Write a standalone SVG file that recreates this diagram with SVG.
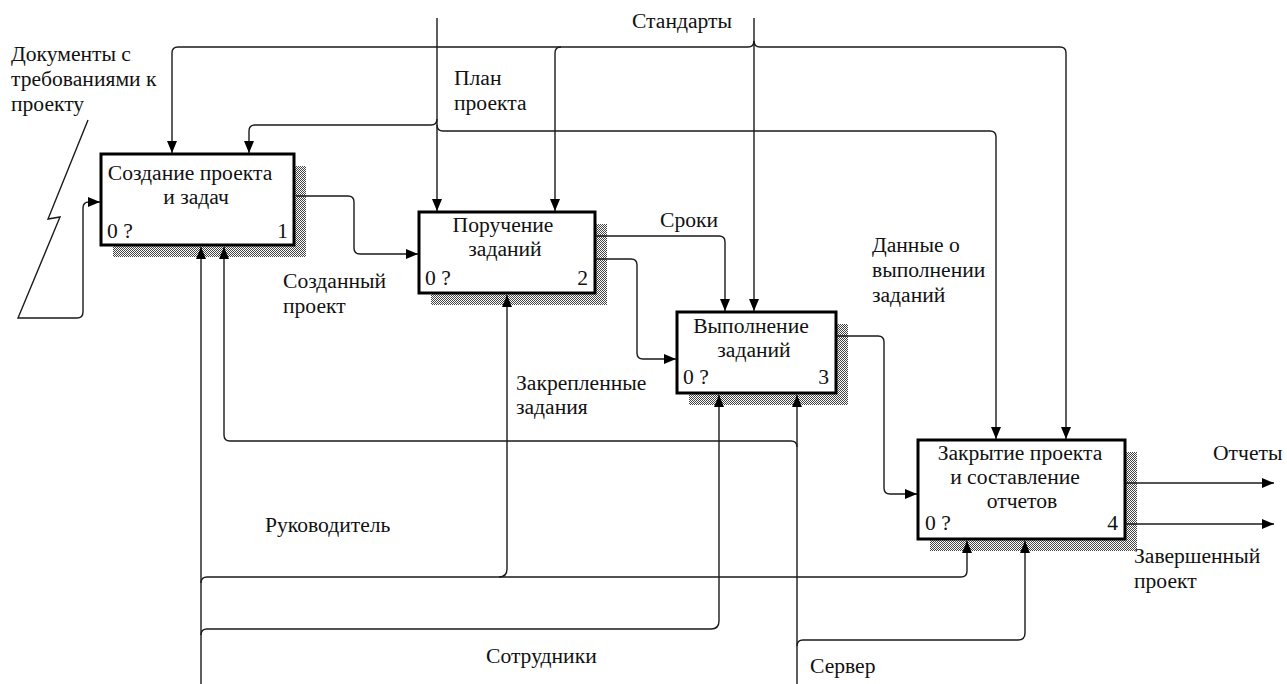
<svg xmlns="http://www.w3.org/2000/svg" width="1287" height="684" viewBox="0 0 1287 684">
<defs>
<style>
.t{font-family:"Liberation Serif","Times New Roman",serif;font-size:21.6px;fill:#111}
.m{text-anchor:middle}
.e{text-anchor:end}
.box{fill:#fff;stroke:#000;stroke-width:3}
.sh{fill:url(#hatch)}
.c{fill:none;stroke:#1a1a1a;stroke-width:1.4}
.a{marker-end:url(#ah)}
</style>
<pattern id="hatch" width="2" height="2" patternUnits="userSpaceOnUse">
<rect width="2" height="2" fill="#fff"/>
<rect width="1" height="1" fill="#444"/>
<rect x="1" y="1" width="1" height="1" fill="#444"/>
</pattern>
<marker id="ah" markerWidth="12" markerHeight="10" refX="12" refY="5" orient="auto" markerUnits="userSpaceOnUse">
<path d="M0,0 L12,5 L0,10 z" fill="#000"/>
</marker>
</defs>
<rect width="1287" height="684" fill="#fff"/>

<g id="node1">
<rect class="sh" x="113" y="166" width="193" height="91"/>
<rect class="box" x="101" y="154" width="193" height="91"/>
<text class="t m" x="190" y="180">Создание проекта</text>
<text class="t m" x="196" y="204">и задач</text>
<text class="t" x="107" y="238">0 ?</text>
<text class="t e" x="288" y="238">1</text>
</g>

<g id="node2">
<rect class="sh" x="431" y="224" width="176" height="81"/>
<rect class="box" x="419" y="212" width="176" height="81"/>
<text class="t m" x="503" y="232">Поручение</text>
<text class="t m" x="505" y="256">заданий</text>
<text class="t" x="425" y="285">0 ?</text>
<text class="t e" x="588" y="285">2</text>
</g>

<g id="node3">
<rect class="sh" x="689" y="324" width="159" height="81"/>
<rect class="box" x="677" y="312" width="159" height="81"/>
<text class="t m" x="751" y="333">Выполнение</text>
<text class="t m" x="754" y="357">заданий</text>
<text class="t" x="683" y="384">0 ?</text>
<text class="t e" x="829" y="384">3</text>
</g>

<g id="node4">
<rect class="sh" x="930" y="452" width="207" height="99"/>
<rect class="box" x="918" y="440" width="207" height="99"/>
<text class="t m" x="1020" y="460">Закрытие проекта</text>
<text class="t m" x="1015" y="484">и составление</text>
<text class="t m" x="1022" y="508">отчетов</text>
<text class="t" x="925" y="530">0 ?</text>
<text class="t e" x="1118" y="530">4</text>
</g>

<g id="connectors">
<!-- Стандарты -->
<path class="c a" d="M754 18 V311"/>
<path class="c a" d="M754 41 Q754 47 748 47 H178 Q172 47 172 53 V153"/>
<path class="c a" d="M561 47 Q555 47 555 53 V211"/>
<path class="c a" d="M754 41 Q754 47 760 47 H1060 Q1066 47 1066 53 V439"/>
<!-- План проекта -->
<path class="c a" d="M437 18 V211"/>
<path class="c a" d="M437 119 Q437 125 431 125 H255 Q249 125 249 131 V153"/>
<path class="c a" d="M437 125 Q437 131 443 131 H990 Q996 131 996 137 V439"/>
<!-- Документы -->
<path class="c a" d="M88 120 L48 219 L60 217 L18 318 H77 Q83 318 83 312 V208 Q83 202 89 202 H100"/>
<!-- Созданный проект -->
<path class="c a" d="M296 196 H348 Q354 196 354 202 V248 Q354 254 360 254 H418"/>
<!-- Сроки -->
<path class="c a" d="M596 236 H719 Q725 236 725 242 V311"/>
<!-- Закрепленные задания -->
<path class="c a" d="M596 259 H631 Q637 259 637 265 V353 Q637 359 643 359 H676"/>
<!-- Данные о выполнении -->
<path class="c a" d="M837 336 H878 Q884 336 884 342 V488 Q884 494 890 494 H917"/>
<!-- Outputs -->
<path class="c a" d="M1126 483 H1274"/>
<path class="c a" d="M1126 524 H1274"/>
<!-- Руководитель / Сотрудники -->
<path class="c a" d="M201 684 V247"/>
<path class="c a" d="M201 583 Q201 577 207 577 H961 Q967 577 967 571 V541"/>
<path class="c a" d="M499 577 Q507 577 507 569 V295"/>
<path class="c a" d="M201 635 Q201 629 207 629 H711 Q719 629 719 621 V395"/>
<!-- Сервер -->
<path class="c a" d="M797 684 V395"/>
<path class="c a" d="M797 447 Q797 441 791 441 H230 Q224 441 224 435 V247"/>
<path class="c a" d="M797 646 Q797 640 803 640 H1018 Q1025 640 1025 633 V541"/>

<g id="labels">
<text class="t" x="11" y="61">Документы с</text>
<text class="t" x="11" y="86">требованиями к</text>
<text class="t" x="11" y="111">проекту</text>
<text class="t" x="632" y="28">Стандарты</text>
<text class="t" x="454" y="85">План</text>
<text class="t" x="454" y="110">проекта</text>
<text class="t" x="660" y="227">Сроки</text>
<text class="t" x="283" y="288">Созданный</text>
<text class="t" x="283" y="313">проект</text>
<text class="t" x="872" y="252">Данные о</text>
<text class="t" x="872" y="277">выполнении</text>
<text class="t" x="872" y="302">заданий</text>
<text class="t" x="516" y="390">Закрепленные</text>
<text class="t" x="516" y="414">задания</text>
<text class="t" x="265" y="532">Руководитель</text>
<text class="t" x="486" y="663">Сотрудники</text>
<text class="t" x="810" y="673">Сервер</text>
<text class="t" x="1213" y="460">Отчеты</text>
<text class="t" x="1134" y="563">Завершенный</text>
<text class="t" x="1134" y="588">проект</text>
</g>
</g>
</svg>
